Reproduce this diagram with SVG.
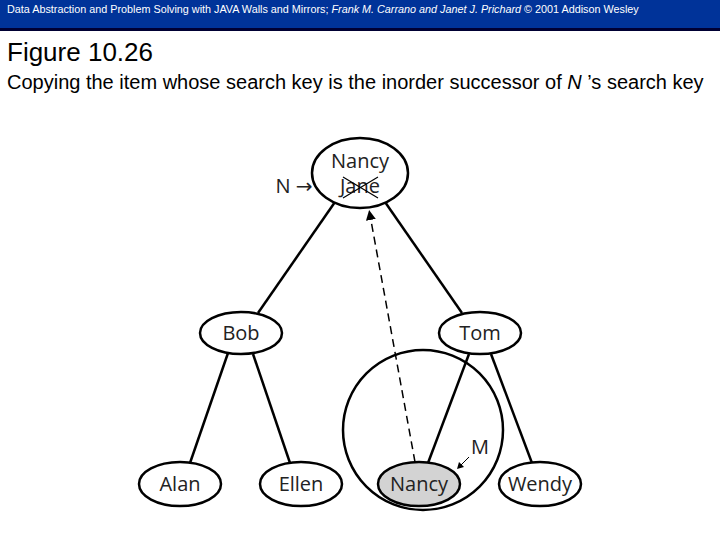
<svg xmlns="http://www.w3.org/2000/svg" width="720" height="540" viewBox="0 0 720 540">
<style>
.n{fill:#fff;stroke:#000;stroke-width:2.5}
.t{font-family:"Open Sans","DejaVu Sans",sans-serif;font-size:20px;fill:#222;text-anchor:middle}
.e{stroke:#000;stroke-width:2.5;fill:none}
</style>
<defs><marker id="a" markerWidth="10" markerHeight="10" refX="5" refY="5" orient="auto" markerUnits="userSpaceOnUse"><path d="M0,0L10,5L0,10z"/></marker></defs>
<rect x="0" y="0" width="720" height="29" fill="#003399"/>
<rect x="0" y="28" width="720" height="3" fill="#000033"/>
<text x="7" y="13" font-family="Liberation Sans,Arial,sans-serif" font-size="10.8" fill="#fff">Data Abstraction and Problem Solving with JAVA  Walls and Mirrors; <tspan font-style="italic">Frank M. Carrano and Janet J. Prichard</tspan>  © 2001 Addison Wesley</text>
<text x="7" y="61" font-family="Liberation Sans,Arial,sans-serif" font-size="26">Figure 10.26</text>
<text x="7" y="89" font-family="Liberation Sans,Arial,sans-serif" font-size="20">Copying the item whose search key is the inorder successor of <tspan font-style="italic">N</tspan> ’s search key</text>
<g id="connectors">
<line class="e" x1="335" y1="202" x2="258" y2="313"/>
<line class="e" x1="385" y1="202" x2="462" y2="313"/>
<line class="e" x1="228" y1="353" x2="190" y2="463"/>
<line class="e" x1="253" y1="354" x2="290" y2="463"/>
<line class="e" x1="469" y1="354" x2="428" y2="463"/>
<line class="e" x1="491" y1="354" x2="532" y2="463"/>
<line stroke="#000" stroke-width="1.5" stroke-dasharray="8,5" x1="415" y1="462" x2="370" y2="215" marker-end="url(#a)"/>
<circle class="e" cx="423" cy="430" r="80"/>
</g>
<g id="nodeN"><ellipse class="n" cx="360" cy="173" rx="48" ry="35"/>
<text class="t" x="360" y="168">Nancy</text><text class="t" x="360" y="193">Jane</text>
<path d="M343,177L378,198M343,198L378,177" stroke="#000" stroke-width="1.2"/></g>
<g id="labelN"><text class="t" x="294" y="193">N →</text></g>
<g id="bob"><ellipse class="n" cx="241" cy="333" rx="41" ry="21"/><text class="t" x="241" y="340">Bob</text></g>
<g id="tom"><ellipse class="n" cx="480" cy="333" rx="41" ry="21"/><text class="t" x="480" y="340">Tom</text></g>
<g id="alan"><ellipse class="n" cx="180" cy="484" rx="41" ry="22"/><text class="t" x="180" y="491">Alan</text></g>
<g id="ellen"><ellipse class="n" cx="301" cy="484" rx="41" ry="22"/><text class="t" x="301" y="491">Ellen</text></g>
<g id="nancy"><ellipse class="n" cx="419" cy="484" rx="41" ry="22" style="fill:#d3d3d3"/><text class="t" x="419" y="491">Nancy</text></g>
<g id="wendy"><ellipse class="n" cx="540" cy="484" rx="41" ry="22"/><text class="t" x="540" y="491">Wendy</text></g>
<g id="labelM"><text class="t" x="480" y="454">M</text>
<line x1="469" y1="457" x2="460" y2="466" stroke="#000" stroke-width="1"/><path d="M457,469l2,-7l5,5z"/></g>
</svg>
